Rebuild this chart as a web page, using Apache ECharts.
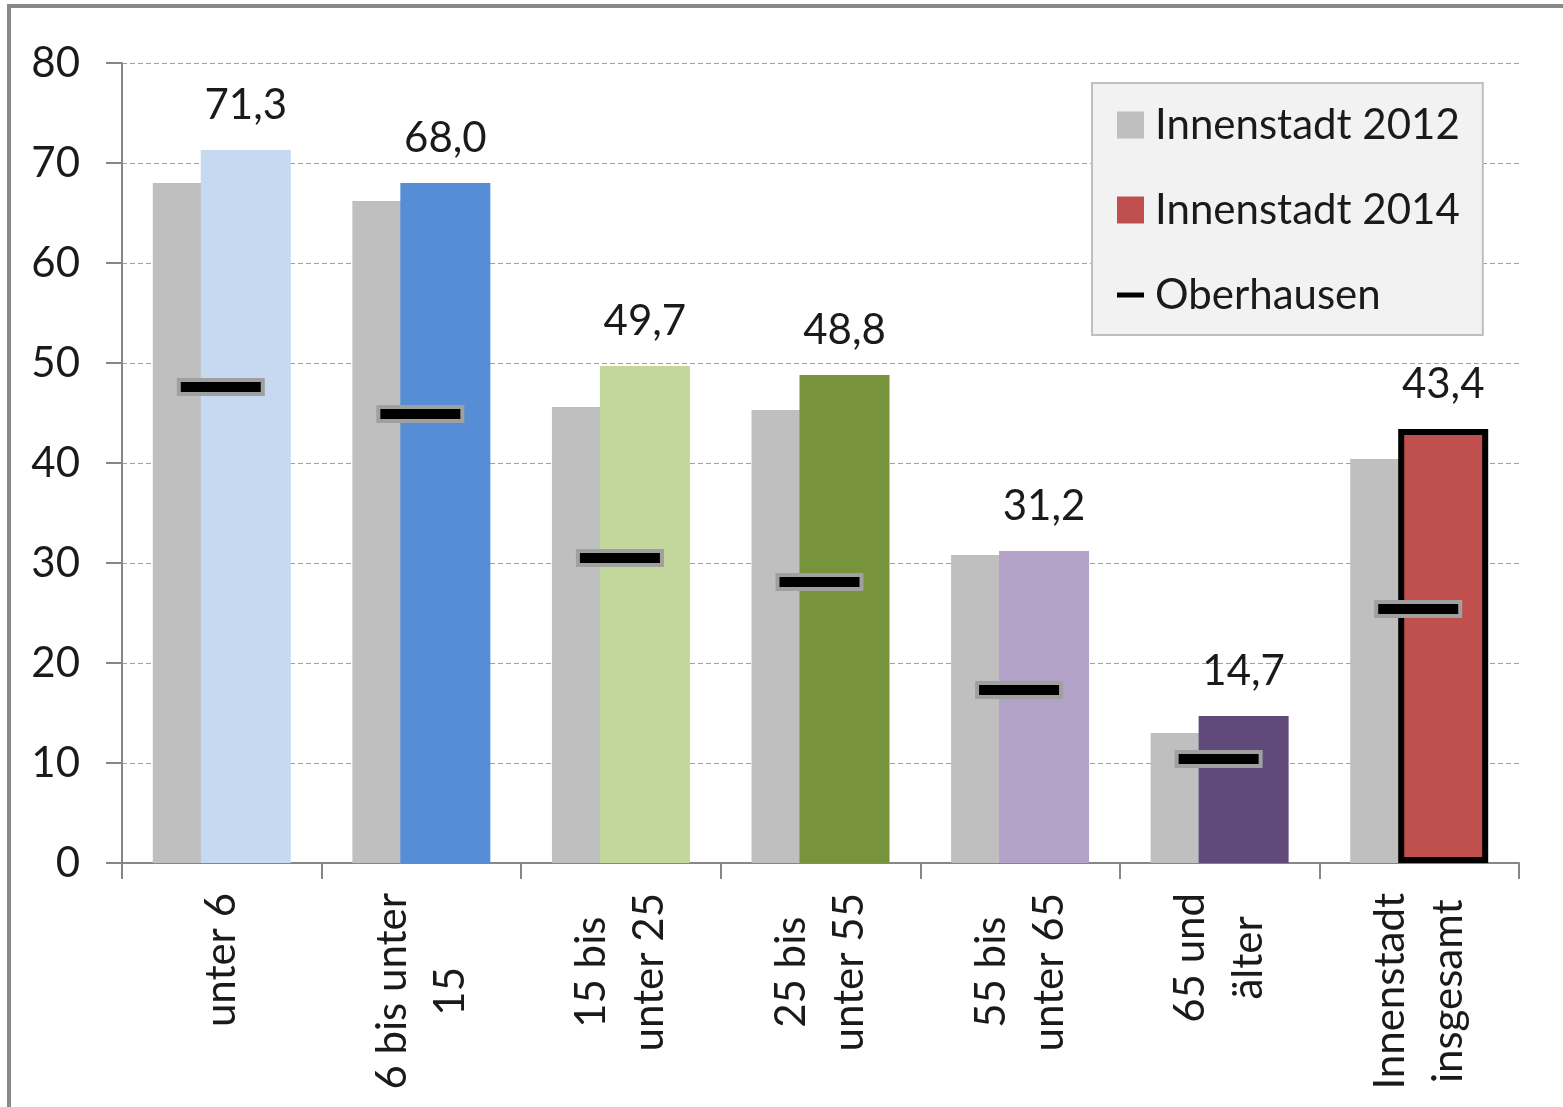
<!DOCTYPE html>
<html><head><meta charset="utf-8">
<script src="https://cdn.jsdelivr.net/npm/echarts@6/dist/echarts.min.js"></script>
<style>
html,body{margin:0;padding:0;background:#fff;overflow:hidden}
#c{position:absolute;left:0;top:0;width:1563px;height:1107px}
#fr{position:absolute;left:7px;top:4px;width:1700px;height:1300px;border-left:4px solid #898989;border-top:4px solid #898989;pointer-events:none}
</style></head><body>
<div id="c"></div><div id="fr"></div>
<script>
const categories = ['unter 6','6 bis unter\n15','15 bis\nunter 25','25 bis\nunter 55','55 bis\nunter 65','65 und\nälter','Innenstadt\ninsgesamt'];
const innenstadt2012 = [68.0, 66.2, 45.6, 45.3, 30.8, 13.0, 40.4];
const innenstadt2014 = [71.3, 68.0, 49.7, 48.8, 31.2, 14.7, 43.4];
const oberhausen = [47.6, 44.9, 30.5, 28.1, 17.3, 10.4, 25.4];
const barColors2014 = ['#c6d9f1','#558ed5','#c3d69b','#77933c','#b3a2c7','#604a7b','#c0504d'];
const seriesNames = ['Innenstadt 2012','Innenstadt 2014','Oberhausen'];

const FONT = 'Lato';
const FS = 42;
const TXT = '#1a1a1a';

const chart = echarts.init(document.getElementById('c'), null, {renderer:'canvas'});

const data2014 = innenstadt2014.map((v,i) => {
  const o = {value: v, itemStyle: {color: barColors2014[i]}};
  if (i === innenstadt2014.length - 1) {
    o.itemStyle.borderColor = '#000';
    o.itemStyle.borderWidth = 6;
  }
  return o;
});

chart.setOption({
  animation: false,
  textStyle: {fontFamily: FONT},
  grid: {left: 122, right: 44, top: 63, bottom: 244, containLabel: false},
  legend: {
    orient: 'vertical',
    left: 1092, top: 83,
    padding: [18, 23, 16, 25],
    backgroundColor: '#f2f2f2',
    borderColor: '#bfbfbf',
    borderWidth: 2,
    itemWidth: 27, itemHeight: 27,
    itemGap: 37,
    selectedMode: false,
    textStyle: {fontFamily: FONT, fontSize: FS, color: TXT, lineHeight: 48, padding: [0,0,0,6]},
    data: [
      {name: seriesNames[0], icon: 'rect'},
      {name: seriesNames[1], icon: 'rect'},
      {name: seriesNames[2], icon: 'path://M0,0H27V5H0Z', itemStyle: {color: '#000', borderWidth: 0}}
    ]
  },
  xAxis: {
    type: 'category',
    data: categories,
    axisLine: {show: true, lineStyle: {color: '#868686', width: 2}},
    axisTick: {show: true, length: 16, interval: 0, lineStyle: {color: '#868686', width: 2}},
    axisLabel: {
      interval: 0, rotate: 90, margin: 30,
      fontFamily: FONT, fontSize: FS, color: TXT,
      formatter: v => v.split('\n').map(s => '{c|' + s + '}').join('\n'),
      rich: {c: {align: 'center', fontFamily: FONT, fontSize: FS, color: TXT, lineHeight: 58}}
    }
  },
  yAxis: {
    type: 'value',
    min: 0, max: 80, interval: 10,
    axisLine: {show: true, lineStyle: {color: '#868686', width: 2}},
    axisTick: {show: true, length: 16, lineStyle: {color: '#868686', width: 2}},
    axisLabel: {margin: 42, fontFamily: FONT, fontSize: FS, color: TXT},
    splitLine: {show: true, lineStyle: {color: '#a0a0a0', width: 1, type: [5, 3]}}
  },
  series: [
    {
      name: seriesNames[0], type: 'bar',
      data: innenstadt2012,
      barWidth: 90, barGap: '-46.7%',
      itemStyle: {color: '#bfbfbf'}
    },
    {
      name: seriesNames[1], type: 'bar',
      data: data2014,
      barWidth: 90, barGap: '-46.7%',
      itemStyle: {color: '#c0504d'},
      label: {
        show: true, position: 'top', distance: 24,
        fontFamily: FONT, fontSize: FS, color: TXT,
        formatter: p => p.value.toFixed(1).replace('.', ',')
      }
    },
    {
      name: seriesNames[2], type: 'custom',
      data: oberhausen.map((v, i) => [i, v]),
      encode: {x: 0, y: 1},
      itemStyle: {color: '#000'},
      z: 5,
      renderItem: (params, api) => {
        const p = api.coord([api.value(0), api.value(1)]);
        return {
          type: 'rect',
          shape: {x: p[0] - 43, y: p[1] - 7, width: 84, height: 14},
          style: {fill: '#000', stroke: '#a0a0a0', lineWidth: 4}
        };
      }
    }
  ]
});
</script>
</body></html>
